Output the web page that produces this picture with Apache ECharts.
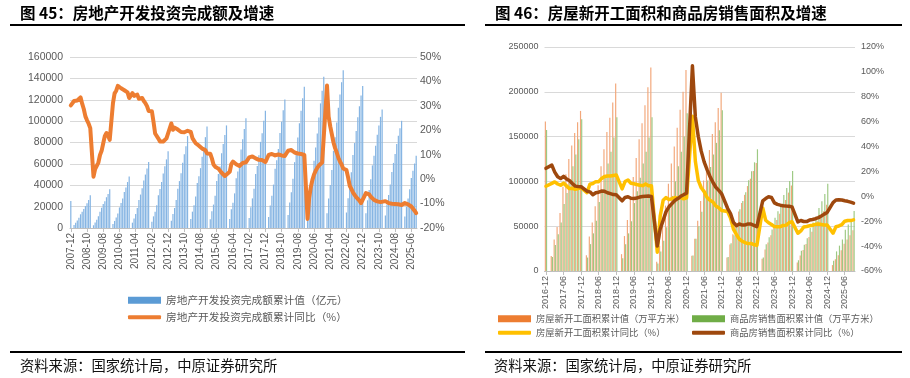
<!DOCTYPE html>
<html><head><meta charset="utf-8">
<script src="https://cdn.jsdelivr.net/npm/echarts@6/dist/echarts.min.js"></script>
<style>html,body{margin:0;padding:0;background:#fff}#c{width:910px;height:378px}</style>
</head><body><div id="c"></div>
<script>
// ---------- Left chart: 2007-12 .. 2025-09 (monthly, Jan not published) ----------
function monthLabels(y, m, n) {
  var out = [];
  for (var i = 0; i < n; i++) {
    out.push(y + '-' + (m < 10 ? '0' + m : '' + m));
    m++; if (m > 12) { m = 1; y++; }
  }
  return out;
}
var leftCategories = monthLabels(2007, 12, 214);

var investValue = [25280,
  null,2750,4890,7030,9480,12840,15290,17740,20490,23240,26300,30580,
  null,2550,5030,7800,11100,15320,18900,22400,25050,28800,31770,36232,
  null,3634,6594,9710,13500,19260,23500,27700,33580,37900,43000,48259,
  null,5000,9000,13200,18700,26250,31300,37300,44400,50000,55700,61797,
  null,5930,10900,15200,21300,30610,36500,43000,51050,57800,64200,71804,
  null,6800,13000,18700,26100,36800,43900,51300,61100,68900,76500,86013,
  null,8400,15300,21300,29500,42000,48500,56000,66600,75600,85000,95036,
  null,8200,15700,21900,30200,43900,50500,57600,70000,78500,87000,95979,
  null,8500,17500,23700,32400,46600,52800,60700,73500,83000,92600,102581,
  null,9300,19300,27700,36800,50600,58000,68000,80600,88600,100400,109799,
  null,10400,21000,30100,40600,55500,63500,74000,88900,99500,110100,120264,
  null,12100,23800,33400,46100,61600,70700,84600,98000,109600,121300,132194,
  null,10100,21900,33100,45900,63000,75300,88500,103500,116600,128500,141443,
  null,13900,27600,40200,54300,72200,84900,98800,112500,124900,136400,147602,
  null,14500,27800,39200,52100,68300,79500,90800,103600,113900,123900,132895,
  null,13700,25900,35500,45700,58600,67700,76900,87300,95900,104000,110913,
  null,11800,22100,30900,40600,52500,60900,69300,78700,86300,93400,100280,
  null,10700,19900,27700,36200,46700,53600,60300,67700];

var investYoy = [30.2,
  null,32.0,32.1,32.2,31.9,33.5,30.9,28.7,25.7,24.1,22.7,20.9,
  null,1.0,4.1,4.9,6.8,9.9,11.6,14.7,17.7,18.9,17.8,16.1,
  null,31.1,35.1,36.2,38.2,38.1,37.2,36.7,36.4,36.5,35.5,33.2,
  null,35.2,34.1,34.3,34.6,32.9,33.6,33.2,32.0,31.1,29.9,27.9,
  null,27.8,23.5,18.7,18.5,16.6,15.4,15.6,15.4,15.4,16.7,16.2,
  null,22.8,20.2,21.1,20.6,20.3,20.5,19.3,19.7,19.2,19.5,19.8,
  null,19.3,16.8,16.4,14.7,14.1,13.7,13.2,12.5,12.4,11.9,10.5,
  null,10.4,8.5,6.0,5.1,4.6,4.3,3.5,2.6,2.0,1.3,1.0,
  null,3.0,6.2,7.2,7.0,6.1,5.3,5.4,5.8,6.6,6.5,6.9,
  null,8.9,9.1,9.3,8.8,8.5,7.9,7.9,8.1,7.8,7.5,7.0,
  null,9.9,10.4,10.3,10.2,9.7,10.2,10.1,9.9,9.7,9.7,9.5,
  null,11.6,11.8,11.9,11.2,10.9,10.6,10.5,10.5,10.3,10.2,9.9,
  null,-16.3,-7.7,-3.3,-0.3,1.9,3.4,4.6,5.6,6.3,6.8,7.0,
  null,38.3,25.6,21.6,18.3,15.0,12.7,10.9,8.8,7.2,6.0,4.4,
  null,3.7,0.7,-2.7,-4.0,-5.4,-6.4,-7.4,-8.0,-8.8,-9.8,-10.0,
  null,-5.7,-5.8,-6.2,-7.2,-7.9,-8.5,-8.8,-9.1,-9.3,-9.4,-9.6,
  null,-9.0,-9.5,-9.8,-10.1,-10.1,-10.2,-10.2,-10.1,-10.3,-10.4,-10.6,
  null,-9.8,-9.9,-10.3,-10.7,-11.2,-12.0,-12.9,-13.9];

// ---------- Right chart: 2016-12 .. 2025-09 ----------
var rightCategories = monthLabels(2016, 12, 106);

var newStartValue = [166928,
  null,16860,35180,49020,64800,94150,108000,125000,140000,154000,166000,178654,
  null,17550,38600,54000,72300,95800,117000,136000,155000,171000,188000,209342,
  null,18800,39000,57000,79700,105000,126000,147000,165000,185000,205000,227154,
  null,10400,28200,50000,73000,97500,120000,139000,160000,180000,200000,224433,
  null,17000,36000,56000,78000,101000,119000,135000,153000,166000,182000,198895,
  null,15000,29700,41000,54000,66400,76000,85000,94800,103000,111600,120587,
  null,13600,24100,31900,39800,49900,56900,63900,72100,79200,87500,95376,
  null,9400,17400,23500,30100,38000,43700,49600,56100,61200,66800,73893,
  null,6600,13000,17700,23200,30400,35200,39800,45400];

var salesValue = [157349,
  null,15610,29040,41000,54000,74660,87000,101000,117000,130000,147000,169408,
  null,15000,30000,42000,56000,77000,90000,105000,120000,133000,149000,171654,
  null,14100,29800,42000,55500,75800,88900,104000,120000,133000,149000,171558,
  null,8500,21900,33800,48700,69400,83800,100000,117000,133000,150000,176086,
  null,17400,36000,50000,66000,88600,101000,116000,130000,143000,157000,179433,
  null,15700,31000,40000,50700,68900,78200,87900,101400,111200,121300,135837,
  null,15100,29900,37600,46400,59500,66600,73900,84800,92600,100500,111735,
  null,12000,22700,29300,36600,47900,54100,60600,70300,77900,86000,97385,
  null,11400,21900,28300,35200,45900,51900,57300,67000];

var newStartYoy = [8.1,
  null,10.4,11.6,9.9,8.9,10.6,8.4,6.2,6.5,5.6,6.3,7.0,
  null,2.9,9.7,10.3,11.8,11.8,14.4,15.9,16.4,16.3,16.8,17.2,
  null,6.0,11.9,13.1,10.5,10.1,9.5,8.9,8.6,10.0,8.6,8.5,
  null,-44.9,-15.8,-3.2,-1.0,-2.6,-1.9,-1.0,-1.5,-0.8,-2.0,-1.2,
  null,64.3,28.2,12.8,6.9,3.8,-0.9,-3.2,-4.5,-7.7,-9.1,-11.4,
  null,-12.2,-17.5,-26.3,-30.6,-34.4,-36.1,-37.2,-38.0,-37.8,-38.9,-39.4,
  null,-9.4,-19.2,-21.2,-22.6,-24.3,-24.5,-24.4,-23.4,-23.2,-21.2,-20.4,
  null,-29.7,-27.8,-24.6,-24.2,-23.7,-23.2,-22.5,-22.2,-22.6,-23.0,-23.0,
  null,-29.6,-24.4,-23.8,-22.8,-20.0,-19.4,-19.5,-18.9];

var salesYoy = [22.5,
  null,25.1,19.5,15.7,14.3,16.1,14.0,12.7,10.3,8.2,7.9,7.7,
  null,4.1,3.6,1.3,2.9,3.3,4.2,4.0,2.9,2.2,1.4,1.3,
  null,-3.6,-0.9,-0.3,-1.6,-1.8,-1.3,-0.6,-0.1,0.1,0.2,-0.1,
  null,-39.9,-26.3,-19.3,-12.3,-8.4,-5.8,-3.3,-1.8,0.0,1.3,2.6,
  null,104.9,63.8,48.1,36.3,27.7,21.5,15.9,11.3,7.3,4.8,1.9,
  null,-9.6,-13.8,-20.9,-23.6,-22.2,-23.1,-23.0,-22.2,-22.3,-23.3,-24.3,
  null,-3.6,-1.8,-0.4,-0.9,-5.3,-6.5,-7.1,-7.5,-7.8,-8.0,-8.5,
  null,-20.5,-19.4,-20.2,-20.3,-19.0,-18.6,-18.0,-17.1,-15.8,-14.3,-12.9,
  null,-5.1,-3.0,-2.8,-2.9,-3.5,-4.0,-4.7,-5.5];

var names = {
  L1: '房地产开发投资完成额累计值（亿元）',
  L2: '房地产开发投资完成额累计同比（%）',
  R1: '房屋新开工面积累计值（万平方米）',
  R2: '商品房销售面积累计值（万平方米）',
  R3: '房屋新开工面积累计同比（%）',
  R4: '商品房销售面积累计同比（%）'
};

var FONT = "'Noto Sans CJK SC', 'Liberation Sans', sans-serif";
var NUMFONT = "'Liberation Sans', 'Noto Sans', sans-serif";
var GRAY = '#595959';

function plain(v) { return String(v); }
function pct(v) { return v + '%'; }

function catAxis(grid, data, interval, fs) {
  return {
    type: 'category', gridIndex: grid, data: data,
    axisLine: { lineStyle: { color: '#BFBFBF' } },
    axisTick: { show: true, interval: interval, alignWithLabel: true, length: 4, lineStyle: { color: '#BFBFBF' } },
    axisLabel: { interval: interval, rotate: 90, fontSize: fs, color: GRAY, fontFamily: NUMFONT, margin: 5 }
  };
}
function valAxis(grid, min, max, step, pos, fmt, fs, split, margin) {
  return {
    type: 'value', gridIndex: grid, min: min, max: max, interval: step, position: pos,
    axisLine: { show: false }, axisTick: { show: false },
    splitLine: { show: split, lineStyle: { color: '#D9D9D9', width: 1 } },
    axisLabel: { formatter: fmt, fontSize: fs, color: GRAY, fontFamily: NUMFONT, margin: margin }
  };
}
function oneLegend(name, isLine, color, left, top, fs) {
  return {
    data: [{ name: name, icon: isLine ? 'roundRect' : 'rect', itemStyle: { color: color } }],
    left: left, top: top, orient: 'horizontal',
    itemWidth: 33, itemHeight: isLine ? 4 : 7, itemGap: 0, padding: 0,
    textStyle: { fontSize: fs, color: GRAY, fontFamily: FONT },
    selectedMode: false
  };
}

var chart = echarts.init(document.getElementById('c'), null, { renderer: 'canvas' });
chart.setOption({
  animation: false,
  backgroundColor: '#ffffff',
  grid: [
    { left: 70, right: 493, top: 57, bottom: 150 },
    { left: 544.5, right: 55, top: 47, bottom: 107 }
  ],
  xAxis: [
    catAxis(0, leftCategories, 9, 10),
    catAxis(1, rightCategories, 5, 9)
  ],
  yAxis: [
    valAxis(0, 0, 160000, 20000, 'left', plain, 10.5, true, 7),
    valAxis(0, -20, 50, 10, 'right', pct, 10.5, false, 3),
    valAxis(1, 0, 250000, 50000, 'left', plain, 9, true, 6),
    valAxis(1, -60, 120, 20, 'right', pct, 9, false, 6)
  ],
  legend: [
    oneLegend(names.L1, false, '#5B9BD5', 128, 295, 10.7),
    oneLegend(names.L2, true, '#ED7D31', 128, 312, 10.7),
    oneLegend(names.R1, false, '#ED7D31', 498, 314, 9.3),
    oneLegend(names.R3, true, '#FFC000', 498, 328, 9.3),
    oneLegend(names.R2, false, '#70AD47', 692, 314, 9.3),
    oneLegend(names.R4, true, '#9E480E', 692, 328, 9.3)
  ],
  series: [
    { name: names.L1, type: 'bar', xAxisIndex: 0, yAxisIndex: 0, data: investValue,
      barCategoryGap: '25%', itemStyle: { color: '#86B5E3' }, z: 2 },
    { name: names.L2, type: 'line', xAxisIndex: 0, yAxisIndex: 1, data: investYoy,
      symbol: 'none', connectNulls: true,
      lineStyle: { color: '#ED7D31', width: 4, join: 'round', cap: 'round' }, itemStyle: { color: '#ED7D31' }, z: 5 },
    { name: names.R1, type: 'bar', xAxisIndex: 1, yAxisIndex: 2, data: newStartValue,
      barGap: '0%', barCategoryGap: '20%', itemStyle: { color: '#F2A77A' }, z: 2 },
    { name: names.R2, type: 'bar', xAxisIndex: 1, yAxisIndex: 2, data: salesValue,
      barGap: '0%', barCategoryGap: '20%', itemStyle: { color: '#9DC983' }, z: 2 },
    { name: names.R3, type: 'line', xAxisIndex: 1, yAxisIndex: 3, data: newStartYoy,
      symbol: 'none', connectNulls: true,
      lineStyle: { color: '#FFC000', width: 3.5, join: 'round', cap: 'round' }, itemStyle: { color: '#FFC000' }, z: 5 },
    { name: names.R4, type: 'line', xAxisIndex: 1, yAxisIndex: 3, data: salesYoy,
      symbol: 'none', connectNulls: true,
      lineStyle: { color: '#9E480E', width: 3.5, join: 'round', cap: 'round' }, itemStyle: { color: '#9E480E' }, z: 6 }
  ],
  graphic: [
    { type: 'text', left: 20, top: 5, style: { text: '图 45：房地产开发投资完成额及增速', font: "bold 15.5px " + FONT, fill: '#000' } },
    { type: 'text', left: 495, top: 5, style: { text: '图 46：房屋新开工面积和商品房销售面积及增速', font: "bold 15.5px " + FONT, fill: '#000' } },
    { type: 'rect', shape: { x: 10, y: 24, width: 455, height: 2 }, style: { fill: '#000' } },
    { type: 'rect', shape: { x: 485, y: 24, width: 417, height: 2 }, style: { fill: '#000' } },
    { type: 'rect', shape: { x: 10, y: 351, width: 455, height: 2 }, style: { fill: '#000' } },
    { type: 'rect', shape: { x: 485, y: 351, width: 417, height: 2 }, style: { fill: '#000' } },
    { type: 'text', left: 20, top: 358, style: { text: '资料来源：国家统计局，中原证券研究所', font: "14.3px " + FONT, fill: '#111' } },
    { type: 'text', left: 494, top: 358, style: { text: '资料来源：国家统计局，中原证券研究所', font: "14.3px " + FONT, fill: '#111' } }
  ]
});
</script></body></html>
